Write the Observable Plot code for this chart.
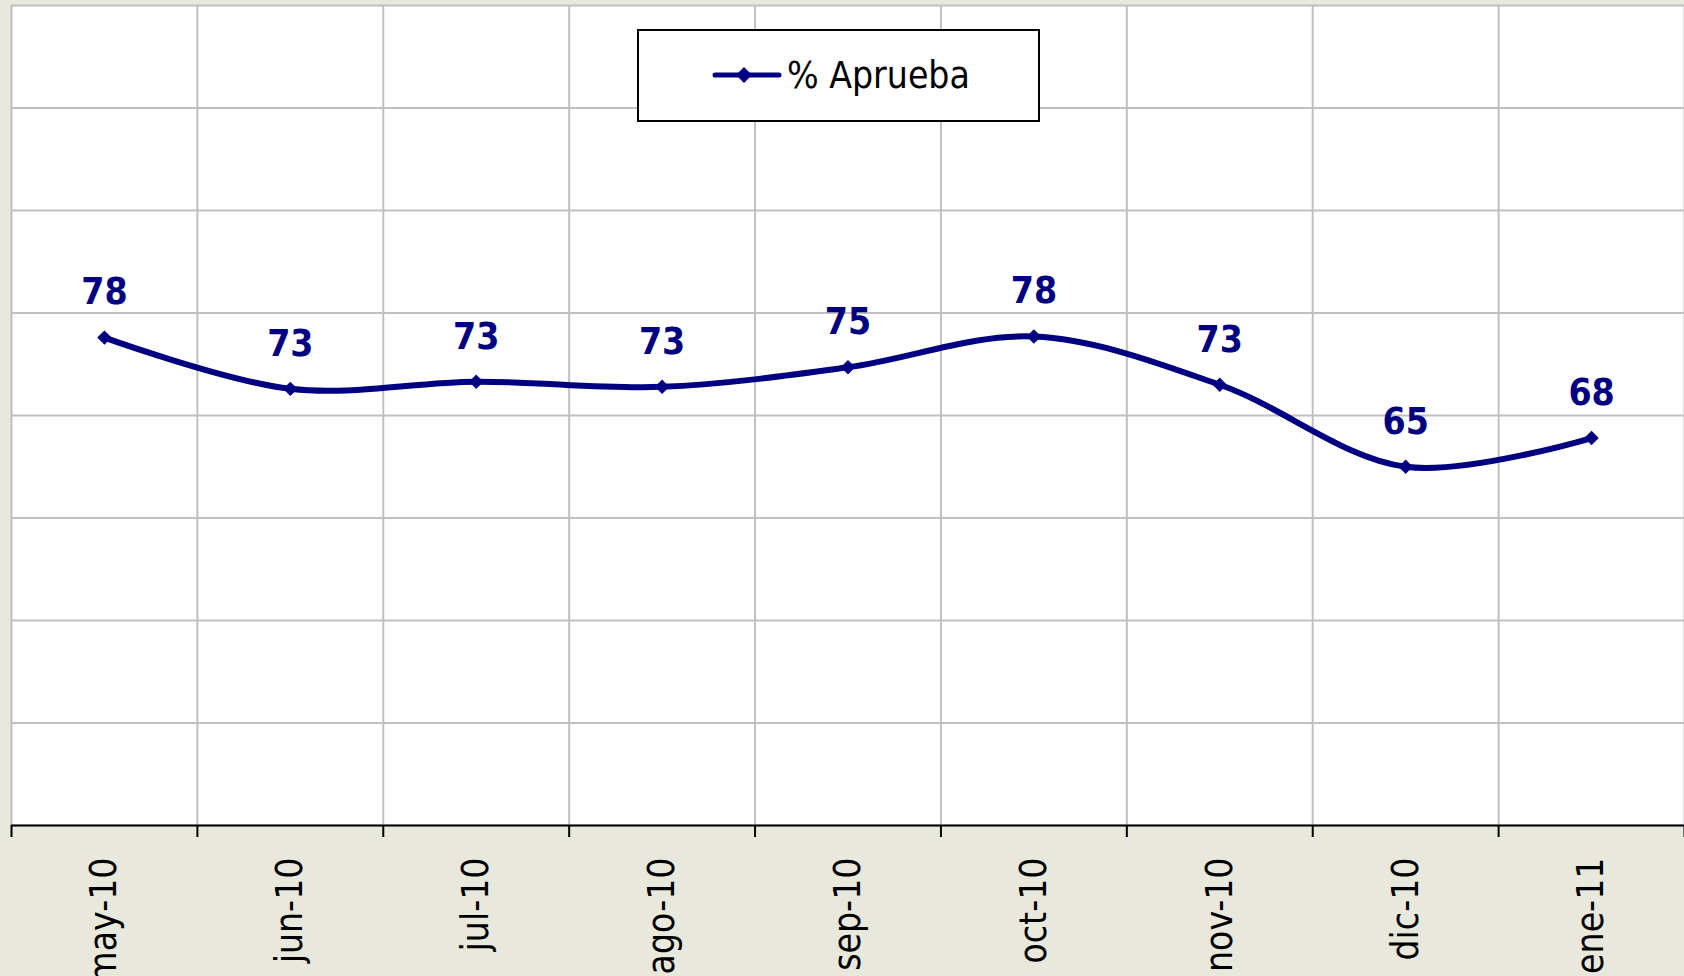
<!DOCTYPE html>
<html>
<head>
<meta charset="utf-8">
<script src="https://cdn.jsdelivr.net/npm/d3@7"></script>
<script src="https://cdn.jsdelivr.net/npm/@observablehq/plot@0.6"></script>
<style>
  html, body { margin: 0; padding: 0; background: #E8E8DC; }
  #wrap { position: relative; width: 1684px; height: 976px; overflow: hidden; }
  #legend { position: absolute; left: 637px; top: 29px; width: 403px; height: 93px; box-sizing: border-box;
            border: 2px solid #000; background: #fff; }
  #legend svg { position: absolute; left: -2px; top: -2px; }
</style>
</head>
<body>
<div id="wrap"></div>
<script>
// ---- data ----
const months = ["may-10", "jun-10", "jul-10", "ago-10", "sep-10", "oct-10", "nov-10", "dic-10", "ene-11"];
const approval = [77.6, 72.6, 73.3, 72.8, 74.7, 77.7, 73.0, 65.0, 67.8];
const seriesName = "% Aprueba";
const yGrid = [30, 40, 50, 60, 70, 80, 90, 100, 110];

const data = months.map((m, i) => ({i, month: m, value: approval[i]}));
const idx = months.map((m, i) => i);
const boundaries = months.map((m, i) => i - 0.5).concat([months.length - 0.5]);

const navy = "#000080";
const labelFont = "Tahoma, 'DejaVu Sans Condensed', 'Noto Sans', sans-serif";

const chart = Plot.plot({
  width: 1684,
  height: 976,
  marginLeft: 11,
  marginRight: 0,
  marginTop: 5,
  marginBottom: 151,
  style: {background: "transparent", overflow: "visible", fontFamily: labelFont},
  x: {type: "linear", domain: [-0.5, months.length - 0.5], axis: null},
  y: {domain: [30, 110], axis: null},
  marks: [
    Plot.frame({fill: "white", stroke: "none"}),
    Plot.ruleY(yGrid, {stroke: "#C0C0C0", strokeWidth: 2}),
    Plot.ruleX(boundaries, {stroke: "#C0C0C0", strokeWidth: 2}),
    Plot.ruleY([yGrid[0]], {stroke: "#000", strokeWidth: 2}),
    Plot.axisX(boundaries, {tickSize: 12, tickFormat: () => "", stroke: "#000", strokeWidth: 2, label: null}),
    Plot.axisX(idx, {tickSize: 0, tickPadding: 32, tickRotate: -90, tickFormat: i => months[i],
                     fontSize: 37, fill: "#000", label: null}),
    Plot.line(data, {x: "i", y: "value", stroke: navy, strokeWidth: 6, curve: "catmull-rom"}),
    Plot.dot(data, {x: "i", y: "value", symbol: "diamond2", r: 6.5, fill: navy, stroke: "none"}),
    Plot.text(data, {x: "i", y: "value", text: d => String(Math.round(d.value)), dy: -45,
                     fontSize: 37, fontWeight: "bold", fill: navy})
  ]
});

const wrap = document.getElementById("wrap");
wrap.appendChild(chart);

// legend (HTML overlay inside the plot area)
const legend = document.createElement("div");
legend.id = "legend";
legend.innerHTML = `<svg width="403" height="93" xmlns="http://www.w3.org/2000/svg">
  <line x1="78" y1="46" x2="142" y2="46" stroke="${navy}" stroke-width="5" stroke-linecap="round"/>
  <path d="M107,38 L115,46 L107,54 L99,46 Z" fill="${navy}"/>
  <text x="150" y="59" font-size="37" font-family="${labelFont.replace(/'/g, "")}" fill="#000">${seriesName}</text>
</svg>`;
wrap.appendChild(legend);
</script>
</body>
</html>
